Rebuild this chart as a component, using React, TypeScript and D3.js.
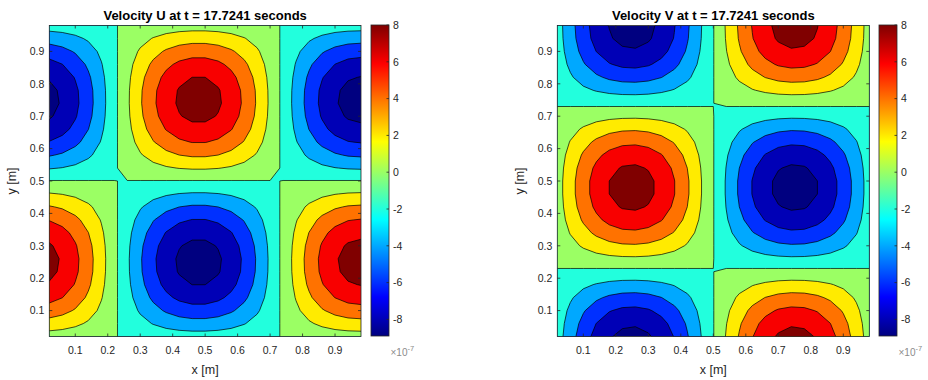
import React from "react";
import * as d3 from "d3";

// Grid: 25 × 25 cells on the unit square, values sampled at cell centres (m)
const GRID_N = 25;
const cellCentres = [
  0.02, 0.06, 0.1, 0.14, 0.18, 0.22, 0.26, 0.3, 0.34, 0.38, 0.42, 0.46, 0.5,
  0.54, 0.58, 0.62, 0.66, 0.7, 0.74, 0.78, 0.82, 0.86, 0.9, 0.94, 0.98,
];

// Velocity amplitude (×10^-7 m/s)
const amplitude = 8.92;

// Separable mode shapes of the velocity field (U: along x, along y; V: along x, along y)
const uProfileX = [
  0.9686, 0.8763, 0.729, 0.5358, 0.309, 0.0628, -0.1874, -0.4258, -0.6374, -0.809,
  -0.9298, -0.9921, -0.9921, -0.9298, -0.809, -0.6374, -0.4258, -0.1874, 0.0628,
  0.309, 0.5358, 0.729, 0.8763, 0.9686, 1.0,
];
const uProfileY = [
  0.1253, 0.3681, 0.5878, 0.7705, 0.9048, 0.9823, 0.998, 0.9511, 0.8443, 0.6845,
  0.4818, 0.2487, 0.01, -0.2487, -0.4818, -0.6845, -0.8443, -0.9511, -0.998,
  -0.9823, -0.9048, -0.7705, -0.5878, -0.3681, -0.1253,
];
const vProfileX = [
  -0.1253, -0.3681, -0.5878, -0.7705, -0.9048, -0.9823, -0.998, -0.9511, -0.8443,
  -0.6845, -0.4818, -0.2487, -0.01, 0.2487, 0.4818, 0.6845, 0.8443, 0.9511, 0.998,
  0.9823, 0.9048, 0.7705, 0.5878, 0.3681, 0.1253,
];
const vProfileY = [
  0.9686, 0.8763, 0.729, 0.5358, 0.309, 0.0628, -0.1874, -0.4258, -0.6374, -0.809,
  -0.9298, -0.9921, -0.9921, -0.9298, -0.809, -0.6374, -0.4258, -0.1874, 0.0628,
  0.309, 0.5358, 0.729, 0.8763, 0.9686, 1.0,
];

// Contour levels and tick values
const contourLevels = [-8, -6, -4, -2, 0, 2, 4, 6, 8];
const axisTicks = [0.1, 0.2, 0.3, 0.4, 0.5, 0.6, 0.7, 0.8, 0.9];
const colorbarTicks = [-8, -6, -4, -2, 0, 2, 4, 6, 8];

const timeLabel = "17.7241";

// MATLAB-style jet colormap
function jet(t: number): string {
  const c = (v: number) => Math.round(255 * Math.max(0, Math.min(1, v)));
  const r = Math.min(4 * t - 1.5, -4 * t + 4.5);
  const g = Math.min(4 * t - 0.5, -4 * t + 3.5);
  const b = Math.min(4 * t + 0.5, -4 * t + 2.5);
  return `rgb(${c(r)},${c(g)},${c(b)})`;
}

const FONT = '"Liberation Sans", Arial, Helvetica, sans-serif';
const AXIS_COLOR = "#262626";

type PanelProps = {
  id: string;
  title: string;
  profileX: number[];
  profileY: number[];
  left: number;
  right: number;
  cbLeft: number;
};

function Panel({ id, title, profileX, profileY, left, right, cbLeft }: PanelProps) {
  const top = 25.5;
  const bottom = 336.5;
  const ext = d3.extent(cellCentres) as [number, number];
  const x = d3.scaleLinear().domain(ext).range([left, right]);
  const y = d3.scaleLinear().domain(ext).range([bottom, top]);

  const values: number[] = [];
  for (let j = 0; j < GRID_N; j++) {
    for (let i = 0; i < GRID_N; i++) {
      values.push(amplitude * profileX[i] * profileY[j]);
    }
  }

  // colour limits: data minimum up to the highest contour level
  const cmin = d3.min(values) as number;
  const cmax = d3.max(contourLevels) as number;
  const norm = (v: number) => (v - cmin) / (cmax - cmin);

  const bands = d3.contours().size([GRID_N, GRID_N]).thresholds(contourLevels)(values);

  // contour index space [0, N] -> metres
  const idx = d3.scaleLinear().domain([0, GRID_N]).range([0, 1]);
  const projection = d3.geoTransform({
    point(px: number, py: number) {
      (this as any).stream.point(x(idx(px)), y(idx(py)));
    },
  });
  const path = d3.geoPath(projection as any);

  const cbTop = 25;
  const cbBottom = 336;
  const cbRight = cbLeft + 18;
  const cbScale = d3.scaleLinear().domain([cmin, cmax]).range([cbBottom, cbTop]);
  const gradStops = d3.range(0, 65).map((k) => k / 64);

  const tickLen = 3;
  const cx = (left + right) / 2;
  const cy = (top + bottom) / 2;

  return (
    <g>
      <defs>
        <clipPath id={`clip-${id}`}>
          <rect x={left} y={top} width={right - left} height={bottom - top} />
        </clipPath>
        <linearGradient id={`grad-${id}`} x1="0" y1="1" x2="0" y2="0">
          {gradStops.map((t) => (
            <stop key={t} offset={t} stopColor={jet(t)} />
          ))}
        </linearGradient>
      </defs>

      <g clipPath={`url(#clip-${id})`}>
        <rect x={left} y={top} width={right - left} height={bottom - top} fill={jet(0)} />
        {bands.map((b) => (
          <path key={`f${b.value}`} d={path(b as any) || ""} fill={jet(norm(b.value))} stroke="none" />
        ))}
        {bands.map((b) => (
          <path key={`s${b.value}`} d={path(b as any) || ""} fill="none" stroke="#000" strokeWidth={0.7} strokeLinejoin="round" />
        ))}
      </g>

      {/* axes box and ticks */}
      <rect x={left} y={top} width={right - left} height={bottom - top} fill="none" stroke={AXIS_COLOR} strokeWidth={0.8} />
      {axisTicks.map((t) => (
        <g key={`xt${t}`}>
          <line x1={x(t)} x2={x(t)} y1={bottom} y2={bottom - tickLen} stroke={AXIS_COLOR} strokeWidth={0.8} />
          <line x1={x(t)} x2={x(t)} y1={top} y2={top + tickLen} stroke={AXIS_COLOR} strokeWidth={0.8} />
          <text x={x(t)} y={bottom + 17} textAnchor="middle" fontSize={10.5} fill={AXIS_COLOR} fontFamily={FONT}>
            {t.toFixed(1)}
          </text>
        </g>
      ))}
      {axisTicks.map((t) => (
        <g key={`yt${t}`}>
          <line x1={left} x2={left + tickLen} y1={y(t)} y2={y(t)} stroke={AXIS_COLOR} strokeWidth={0.8} />
          <line x1={right} x2={right - tickLen} y1={y(t)} y2={y(t)} stroke={AXIS_COLOR} strokeWidth={0.8} />
          <text x={left - 5} y={y(t) + 3.8} textAnchor="end" fontSize={10.5} fill={AXIS_COLOR} fontFamily={FONT}>
            {t.toFixed(1)}
          </text>
        </g>
      ))}

      <text x={cx} y={373.5} textAnchor="middle" fontSize={12.5} fill={AXIS_COLOR} fontFamily={FONT}>
        x [m]
      </text>
      <text
        transform={`translate(${left - 33},${cy}) rotate(-90)`}
        textAnchor="middle"
        fontSize={12.5}
        fill={AXIS_COLOR}
        fontFamily={FONT}
      >
        y [m]
      </text>
      <text x={cx} y={19.5} textAnchor="middle" fontSize={13} fontWeight="bold" fill="#000" fontFamily={FONT}>
        {title}
      </text>

      {/* colorbar */}
      <rect x={cbLeft} y={cbTop} width={cbRight - cbLeft} height={cbBottom - cbTop} fill={`url(#grad-${id})`} stroke={AXIS_COLOR} strokeWidth={0.8} />
      {colorbarTicks.map((t) => (
        <g key={`cb${t}`}>
          <line x1={cbRight} x2={cbRight - 2.5} y1={cbScale(t)} y2={cbScale(t)} stroke={AXIS_COLOR} strokeWidth={0.8} />
          <text x={cbRight + 4} y={cbScale(t) + 3.8} fontSize={10.5} fill={AXIS_COLOR} fontFamily={FONT}>
            {String(t)}
          </text>
        </g>
      ))}
      <text x={cbLeft + 19.5} y={355.5} fontSize={10} fill="#8c8c8c" fontFamily={FONT}>
        ×10
        <tspan dy={-5} fontSize={7.5}>
          -7
        </tspan>
      </text>
    </g>
  );
}

export default function App() {
  return (
    <svg
      width={928}
      height={380}
      style={{ position: "absolute", left: 0, top: 0, background: "#fff" }}
    >
      <rect width={928} height={380} fill="#fff" />
      <Panel
        id="u"
        title={`Velocity U at t = ${timeLabel} seconds`}
        profileX={uProfileX}
        profileY={uProfileY}
        left={49.3}
        right={361}
        cbLeft={371}
      />
      <Panel
        id="v"
        title={`Velocity V at t = ${timeLabel} seconds`}
        profileX={vProfileX}
        profileY={vProfileY}
        left={557.3}
        right={869.3}
        cbLeft={879}
      />
    </svg>
  );
}
